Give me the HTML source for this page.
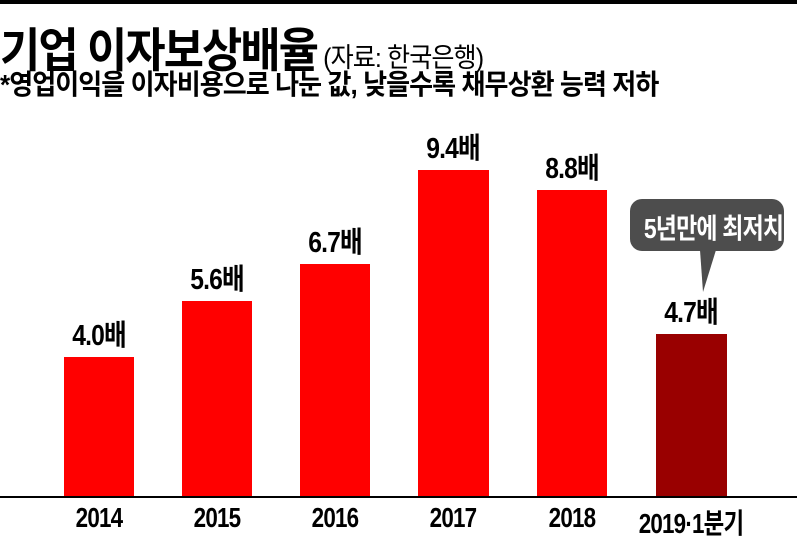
<!DOCTYPE html>
<html><head><meta charset="utf-8"><style>
body{margin:0;width:797px;height:535px;background:#fff;position:relative;overflow:hidden;font-family:"Liberation Sans","Noto Sans CJK KR","NanumGothic",sans-serif;color:#000}
.a{position:absolute;white-space:nowrap}
.bar{position:absolute;background:#ff0000}
.v{position:absolute;font-weight:bold;font-size:29px;width:140px;text-align:center;transform:scaleX(.85);letter-spacing:-1px}
.x{position:absolute;top:502px;font-size:28px;width:160px;text-align:center;transform:scaleX(.8);letter-spacing:-1px;font-weight:bold}
</style></head><body>
<div class="a" style="left:0;top:0;width:797px;height:4px;background:#000"></div>
<div class="a" style="left:0;top:12px;font-size:47px;font-weight:bold;transform:scaleX(.93);transform-origin:left;letter-spacing:-2px">기업 이자보상배율<span style="font-size:27px;font-weight:normal;letter-spacing:-1px"> (자료: 한국은행)</span></div>
<div class="a" style="left:0;top:63px;font-size:28px;font-weight:bold;transform:scaleX(.93);transform-origin:left;letter-spacing:-1px">*영업이익을 이자비용으로 나눈 값, 낮을수록 채무상환 능력 저하</div>

<div class="bar" style="left:64px;top:357px;width:70px;height:140px"></div>
<div class="bar" style="left:182px;top:301px;width:70px;height:196px"></div>
<div class="bar" style="left:300px;top:264px;width:70px;height:233px"></div>
<div class="bar" style="left:418px;top:170px;width:71px;height:327px"></div>
<div class="bar" style="left:537px;top:190px;width:70px;height:307px"></div>
<div class="bar" style="left:656px;top:334px;width:71px;height:163px;background:#990000"></div>
<div class="a" style="left:0;top:496px;width:797px;height:2px;background:#000"></div>

<div class="v" style="left:29px;top:312px">4.0배</div>
<div class="v" style="left:147px;top:256px">5.6배</div>
<div class="v" style="left:265px;top:219px">6.7배</div>
<div class="v" style="left:383px;top:125px">9.4배</div>
<div class="v" style="left:502px;top:145px">8.8배</div>
<div class="v" style="left:621px;top:289px">4.7배</div>

<svg class="a" style="left:0;top:0" width="797" height="535">
<rect x="630" y="199" width="154" height="52" rx="12" fill="#4d4d4d"/>
<polygon points="700,250 716,250 703,292" fill="#4d4d4d"/>
</svg>
<div class="a" style="left:630px;top:207px;width:154px;text-align:center;color:#fff;font-weight:bold;font-size:28px;transform:scaleX(.82);letter-spacing:-1px">5년만에 최저치</div>

<div class="x" style="left:19px">2014</div>
<div class="x" style="left:137px">2015</div>
<div class="x" style="left:255px">2016</div>
<div class="x" style="left:373px">2017</div>
<div class="x" style="left:492px">2018</div>
<div class="x" style="left:611px">2019·1분기</div>
</body></html>
